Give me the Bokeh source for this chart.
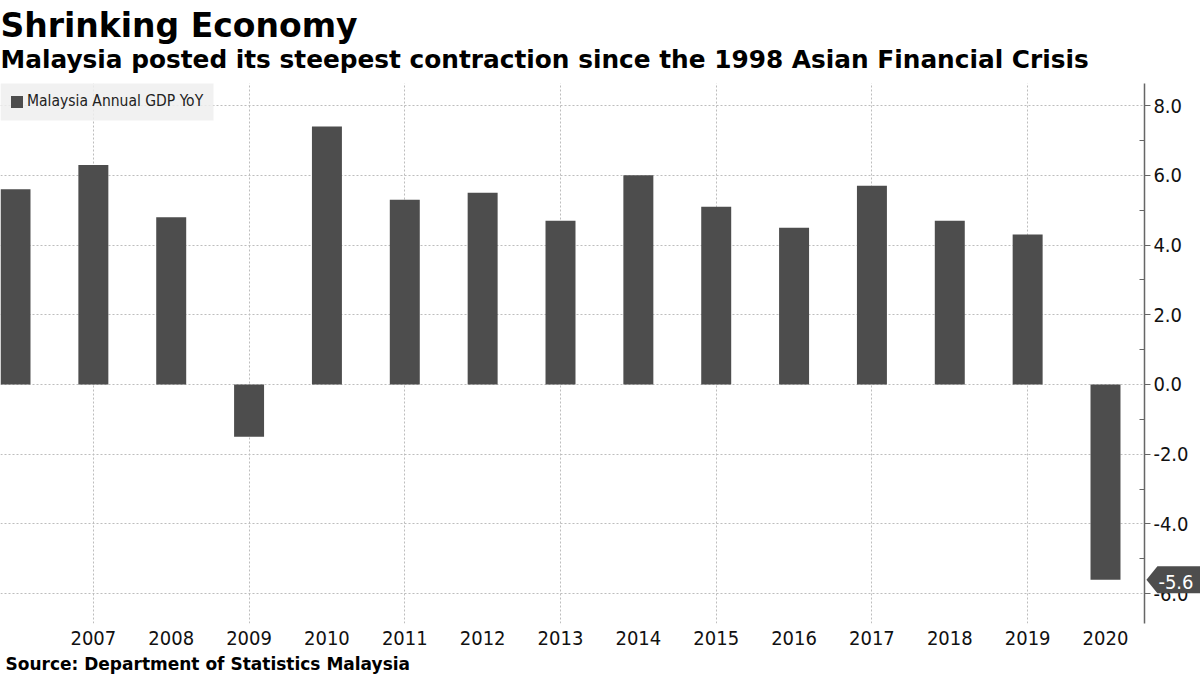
from bokeh.plotting import figure
from bokeh.models import (Range1d, FixedTicker, Label, PolyAnnotation, BoxAnnotation,
                          ColumnDataSource, NumeralTickFormatter)
from bokeh.embed import file_html
from bokeh.resources import INLINE

# ---- data ----
years = [2006, 2007, 2008, 2009, 2010, 2011, 2012, 2013, 2014, 2015, 2016, 2017, 2018, 2019, 2020]
gdp_yoy = [5.6, 6.3, 4.8, -1.5, 7.4, 5.3, 5.5, 4.7, 6.0, 5.1, 4.5, 5.7, 4.7, 4.3, -5.6]
year_ticks = [2007, 2008, 2009, 2010, 2011, 2012, 2013, 2014, 2015, 2016, 2017, 2018, 2019, 2020]
year_grid = [2007, 2009, 2011, 2013, 2015, 2017, 2019]
y_ticks = [-6, -4, -2, 0, 2, 4, 6, 8]
y_minor = [-5, -3, -1, 1, 3, 5, 7]
series_name = "Malaysia Annual GDP YoY"
title_text = "Shrinking Economy"
subtitle_text = "Malaysia posted its steepest contraction since the 1998 Asian Financial Crisis"
source_text = "Source: Department of Statistics Malaysia"

NARROW = "DejaVu Sans Condensed"
BOLD = "DejaVu Sans"
BAR = "#4d4d4d"

# ---- geometry (pixels) ----
W, H = 1200, 675
FRAME_TOP, FRAME_BOTTOM = 83, 623
x0, x1 = 2005.8073, 2021.2202          # full canvas width
y0, y1 = -6.857, 8.635                 # plotting area (between FRAME_TOP and FRAME_BOTTOM)
axis_x = 2020.5
PPY = W / (x1 - x0)
PPU = (FRAME_BOTTOM - FRAME_TOP) / (y1 - y0)
Y_TOP = y1 + FRAME_TOP / PPU
Y_BOT = y0 - (H - FRAME_BOTTOM) / PPU


def dx(px):
    return x0 + px / PPY


def dy(py):
    return Y_TOP - py / PPU


p = figure(width=W, height=H, output_backend="svg", toolbar_location=None,
           x_range=Range1d(x0, x1), y_range=Range1d(Y_BOT, Y_TOP),
           y_axis_location="right",
           min_border_left=0, min_border_right=0, min_border_top=0, min_border_bottom=0)
p.outline_line_color = None
p.background_fill_color = "white"
p.border_fill_color = "white"

src = ColumnDataSource(dict(year=years, gdp=gdp_yoy))
p.vbar(x="year", top="gdp", bottom=0, width=0.385, source=src,
       fill_color=BAR, line_color=None, legend_label=series_name)

# x axis (fixed at bottom of plotting area)
xa = p.xaxis[0]
xa.fixed_location = y0
xa.ticker = FixedTicker(ticks=year_ticks)
xa.axis_line_color = None
xa.major_tick_line_color = None
xa.minor_tick_line_color = None
xa.major_tick_out = 0
xa.major_tick_in = 0
xa.minor_tick_out = 0
xa.major_label_text_font = NARROW
xa.major_label_text_font_size = "20px"
xa.major_label_text_color = "#111111"
xa.major_label_standoff = 7

# y axis (right, fixed at the right end of the bars)
ya = p.yaxis[0]
ya.fixed_location = axis_x
ya.bounds = (y0, y1)
ya.ticker = FixedTicker(ticks=y_ticks, minor_ticks=y_minor)
ya.formatter = NumeralTickFormatter(format="0.0")
ya.axis_line_color = "#666666"
ya.axis_line_width = 1.5
ya.major_tick_line_color = "#666666"
ya.major_tick_in = 0
ya.major_tick_out = 6
ya.minor_tick_line_color = "#666666"
ya.minor_tick_in = 5
ya.minor_tick_out = 0
ya.major_label_text_font = NARROW
ya.major_label_text_font_size = "20px"
ya.major_label_text_color = "#111111"
ya.major_label_standoff = 3

# grids
p.xgrid.ticker = FixedTicker(ticks=year_grid)
for g in (p.xgrid, p.ygrid):
    g.grid_line_color = "#bdbdbd"
    g.grid_line_dash = "2 2"
    g.grid_line_width = 1

# keep the grid inside the plotting area
for kw in (dict(left=axis_x), dict(bottom=y1), dict(top=y0)):
    p.add_layout(BoxAnnotation(fill_color="white", fill_alpha=1, line_color=None,
                               level="glyph", **kw))

# legend background + legend
p.add_layout(BoxAnnotation(left=dx(0), right=dx(213), top=dy(83), bottom=dy(120),
                           fill_color="#eeeeee", fill_alpha=0.85, line_color=None,
                           level="glyph"))
lg = p.legend[0]
lg.location = (9, H - 110)
lg.margin = 0
lg.padding = 0
lg.spacing = 0
lg.background_fill_alpha = 0
lg.border_line_color = None
lg.label_text_font = NARROW
lg.label_text_font_size = "15.5px"
lg.label_text_color = "#222222"
lg.glyph_width = 15
lg.glyph_height = 15
lg.label_standoff = 3
lg.label_height = 17

# titles and source as text (centred on the capital height above the baseline)
CAP = 0.729
for txt, px, baseline, size in ((title_text, 0, 37, 33.0),
                                (subtitle_text, 0, 68, 24.8),
                                (source_text, 5, 670, 17.0)):
    p.add_layout(Label(x=dx(px), y=dy(baseline - CAP * size / 2), text=txt,
                       text_font=BOLD, text_font_size=f"{size}px",
                       text_font_style="bold", text_color="black",
                       text_baseline="middle", text_align="left", level="overlay"))

# last value callout
last_val = gdp_yoy[-1]
tip = axis_x + 2 / PPY
box_l = axis_x + 13 / PPY
box_r = axis_x + 60 / PPY
hh = 13.5 / PPU
p.add_layout(PolyAnnotation(xs=[tip, box_l, box_r, box_r, box_l],
                            ys=[last_val, last_val + hh, last_val + hh, last_val - hh, last_val - hh],
                            fill_color=BAR, fill_alpha=1, line_color=None, level="overlay"))
p.add_layout(Label(x=axis_x, y=last_val, x_offset=14, y_offset=-2, text=f"{last_val:.1f}",
                   text_font=NARROW, text_font_size="20px", text_color="white",
                   text_baseline="middle", text_align="left", level="overlay"))

open("out.html", "w").write(file_html(p, INLINE))
